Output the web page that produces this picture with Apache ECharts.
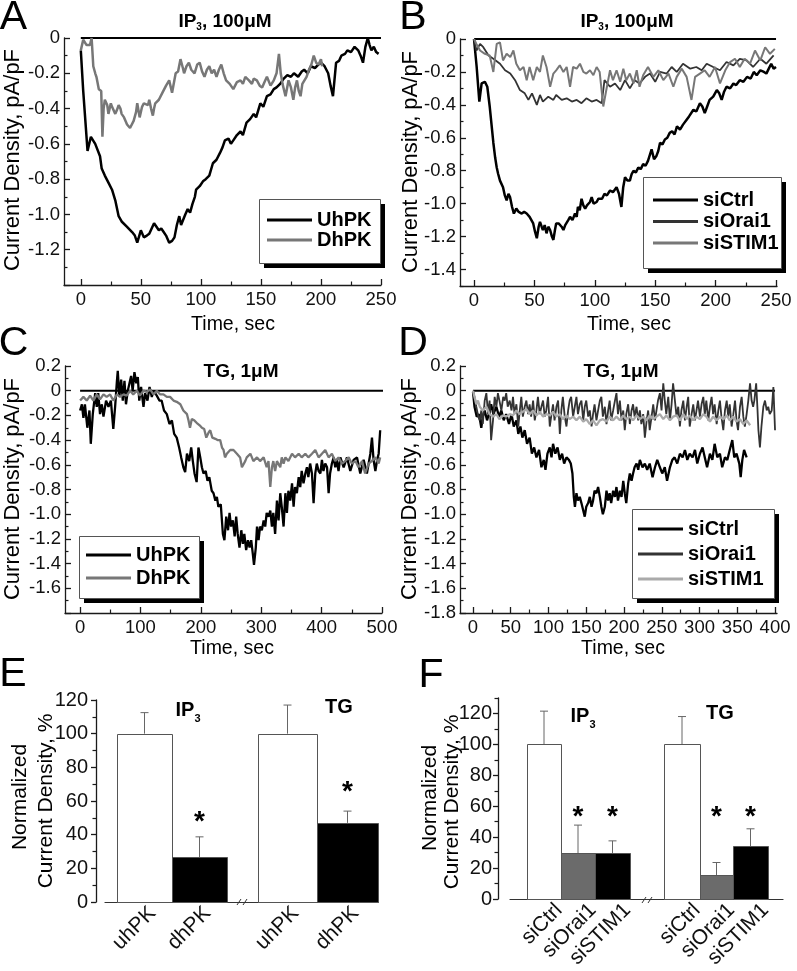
<!DOCTYPE html>
<html><head><meta charset="utf-8">
<script src="https://cdn.jsdelivr.net/npm/echarts@6/dist/echarts.min.js"></script>
<style>html,body{margin:0;padding:0;background:#fff}#c{width:797px;height:971px}</style>
</head><body><div id="c"></div>
<script>
// ---------------- DATA ----------------
// Panel A (IP3, 100uM): [time s, current pA/pF]
const A_UhPK = [[0,-0.07],[2,-0.3],[5.6,-0.64],[8.4,-0.56],[12,-0.6],[16,-0.67],[17.4,-0.74],[20,-0.78],[23,-0.82],[26,-0.86],[28.7,-0.92],[31.5,-1.01],[34,-1.04],[38.5,-1.07],[42.7,-1.1],[45,-1.12],[47,-1.16],[50,-1.09],[52.5,-1.13],[55,-1.12],[57,-1.11],[59,-1.08],[61,-1.05],[63,-1.07],[65,-1.09],[67,-1.08],[69,-1.1],[71,-1.12],[73.6,-1.16],[76,-1.15],[78,-1.13],[80,-1.06],[82,-1.01],[83.5,-1.06],[85,-1.05],[87,-1.0],[89,-0.97],[91,-0.99],[93,-0.94],[95,-0.9],[96,-0.86],[99,-0.84],[102,-0.81],[104,-0.8],[107,-0.78],[110,-0.71],[113,-0.69],[116,-0.65],[118,-0.62],[120,-0.58],[123,-0.57],[125,-0.6],[127,-0.58],[130,-0.55],[133,-0.53],[135,-0.55],[138,-0.48],[141,-0.46],[144,-0.43],[146,-0.45],[149.5,-0.37],[152,-0.39],[155,-0.33],[158,-0.32],[160.7,-0.29],[163,-0.28],[166,-0.26],[169,-0.23],[172,-0.21],[175,-0.22],[177.5,-0.2],[181,-0.22],[184,-0.19],[186,-0.18],[189,-0.2],[191.6,-0.16],[195,-0.17],[198,-0.15],[200,-0.14],[203,-0.16],[206,-0.2],[208,-0.27],[210,-0.33],[212.6,-0.14],[215,-0.13],[217,-0.1],[220,-0.09],[222,-0.07],[225,-0.08],[228,-0.05],[231,-0.07],[233,-0.1],[235,-0.14],[237,-0.05],[239,0],[240.5,-0.04],[242,-0.07],[244,-0.05],[246,-0.08],[248,-0.09]];
const A_DhPK = [[0,-0.07],[2,-0.01],[4.8,-0.04],[7.6,-0.04],[9,0],[10.4,-0.16],[12,-0.2],[13,-0.22],[15,-0.29],[17,-0.3],[18,-0.56],[19,-0.4],[20,-0.35],[22,-0.38],[23,-0.43],[25,-0.37],[26,-0.39],[28.7,-0.43],[30,-0.41],[31.5,-0.38],[33,-0.4],[34,-0.43],[36,-0.45],[38.5,-0.49],[41,-0.51],[44,-0.47],[46,-0.42],[47,-0.37],[49,-0.45],[51,-0.39],[52.5,-0.37],[54,-0.37],[56,-0.38],[57,-0.35],[58.5,-0.4],[60,-0.44],[61,-0.4],[62,-0.37],[65,-0.35],[68,-0.31],[71,-0.27],[73.6,-0.24],[76,-0.31],[79,-0.2],[81,-0.19],[83,-0.12],[85,-0.17],[86,-0.2],[88,-0.16],[90,-0.14],[92,-0.18],[94.7,-0.2],[97,-0.15],[99,-0.14],[101,-0.19],[103,-0.22],[105,-0.18],[107,-0.16],[109,-0.2],[111,-0.18],[113,-0.22],[115,-0.18],[117,-0.15],[119,-0.2],[121,-0.24],[124,-0.26],[127,-0.29],[130,-0.25],[133,-0.24],[135,-0.26],[137,-0.22],[140,-0.24],[142.5,-0.26],[144,-0.23],[146.6,-0.24],[149,-0.27],[151,-0.28],[153,-0.25],[155,-0.22],[158,-0.27],[160.7,-0.24],[163,-0.2],[165,-0.09],[166.5,-0.2],[168,-0.26],[170.5,-0.33],[173,-0.24],[175,-0.28],[177,-0.35],[178.5,-0.28],[180,-0.24],[181.5,-0.3],[183,-0.33],[184.5,-0.26],[186,-0.27],[188,-0.22],[190,-0.18],[192,-0.15],[194,-0.1],[196,-0.14],[198,-0.15],[200,-0.12],[201,-0.16]];
const A_zero = [[0,0],[250,0]];

// Panel B (IP3, 100uM)
const B_siCtrl = [[0,0],[2.2,-0.17],[4.4,-0.38],[6.3,-0.27],[9,-0.26],[11,-0.29],[13,-0.41],[14.5,-0.52],[16,-0.63],[17.5,-0.72],[18.8,-0.78],[20,-0.82],[21.5,-0.86],[24,-0.9],[25.5,-0.95],[27,-0.98],[28.5,-0.94],[29.8,-0.96],[31.5,-1.02],[33,-1.06],[35,-1.03],[37,-1.05],[39.5,-1.06],[41.5,-1.05],[43.6,-1.06],[46,-1.08],[49,-1.12],[50.5,-1.17],[52,-1.21],[53.5,-1.14],[54.6,-1.11],[56,-1.14],[57,-1.16],[58.5,-1.13],[60,-1.18],[61.5,-1.14],[63,-1.16],[64.5,-1.2],[65.7,-1.22],[67,-1.16],[68,-1.12],[70,-1.12],[71,-1.11],[72.5,-1.14],[74,-1.16],[75.5,-1.13],[76.7,-1.14],[78,-1.1],[79.5,-1.08],[81.5,-1.1],[83.6,-1.06],[85,-1.08],[86,-1.02],[87.5,-1.04],[89,-0.97],[90.5,-1.01],[92,-1.03],[93.5,-1.01],[94.6,-1.02],[96,-0.99],[97.4,-0.96],[99,-1.0],[101.5,-0.99],[103,-0.97],[104,-0.96],[106,-0.97],[108,-0.94],[110,-0.95],[112.6,-0.92],[115,-0.93],[118,-0.9],[120,-0.94],[122,-1.02],[123.5,-0.9],[125,-0.84],[127,-0.86],[129,-0.86],[130.5,-0.82],[132,-0.8],[134,-0.81],[136,-0.78],[138,-0.79],[140,-0.76],[142,-0.77],[144,-0.74],[145.5,-0.75],[147,-0.67],[149,-0.73],[151,-0.71],[152.5,-0.68],[154,-0.63],[156,-0.64],[158,-0.61],[160,-0.6],[162,-0.57],[164,-0.56],[166,-0.58],[168,-0.53],[170.5,-0.55],[173,-0.52],[176,-0.49],[178,-0.47],[181.6,-0.43],[184,-0.44],[187,-0.39],[189,-0.41],[191,-0.45],[193,-0.41],[195,-0.37],[198,-0.35],[201,-0.31],[203,-0.33],[205,-0.37],[207,-0.32],[209,-0.29],[212,-0.3],[214.7,-0.27],[217,-0.28],[220,-0.25],[223,-0.26],[226,-0.23],[229,-0.24],[231.6,-0.2],[234,-0.22],[237,-0.19],[240,-0.2],[242,-0.21],[244,-0.18],[246,-0.15],[248,-0.18],[250,-0.17]];
const B_siOrai1 = [[0,0],[2,-0.07],[5,-0.03],[7.7,-0.05],[12,-0.1],[16,-0.12],[21.5,-0.15],[25.7,-0.19],[30,-0.21],[34,-0.25],[38,-0.31],[42,-0.33],[45,-0.37],[48,-0.33],[52,-0.4],[54.6,-0.34],[57,-0.38],[61.5,-0.35],[65.7,-0.37],[68,-0.34],[72.6,-0.37],[76.7,-0.36],[81,-0.38],[85,-0.37],[89,-0.39],[93,-0.36],[97.4,-0.38],[101.5,-0.37],[105.7,-0.39],[108,-0.25],[112.6,-0.29],[116.7,-0.27],[121,-0.31],[125,-0.25],[129,-0.3],[133,-0.25],[137,-0.27],[141.6,-0.23],[145.7,-0.21],[150,-0.26],[154,-0.2],[159.5,-0.21],[163.6,-0.17],[167.8,-0.2],[173,-0.15],[179,-0.18],[184,-0.17],[188.5,-0.19],[192.6,-0.15],[198,-0.17],[203.6,-0.19],[209,-0.14],[214.7,-0.16],[220,-0.12],[225.7,-0.13],[231,-0.17],[237,-0.12],[242,-0.15],[248,-0.1]];
const B_siSTIM1 = [[0,0],[2,-0.03],[5,-0.07],[9,-0.09],[13,-0.1],[16,-0.2],[18.8,-0.03],[21.5,-0.02],[24,-0.13],[27,-0.09],[30,-0.11],[32.6,-0.07],[35,-0.15],[38,-0.19],[41,-0.17],[43.6,-0.25],[46,-0.17],[49,-0.25],[52,-0.17],[54.6,-0.2],[57,-0.1],[60,-0.17],[63,-0.29],[65.7,-0.21],[68,-0.19],[71,-0.16],[74,-0.2],[76.7,-0.17],[79.5,-0.29],[82,-0.17],[85,-0.18],[87.7,-0.15],[90.5,-0.2],[93,-0.21],[96,-0.19],[98.8,-0.22],[101.5,-0.17],[104,-0.2],[107,-0.41],[110,-0.29],[112.6,-0.19],[115,-0.25],[118,-0.19],[121,-0.26],[123.6,-0.18],[126,-0.25],[129,-0.21],[132,-0.27],[134.7,-0.19],[137,-0.29],[140,-0.22],[144,-0.17],[148.5,-0.23],[152.6,-0.19],[156.7,-0.25],[161,-0.21],[165,-0.29],[167.8,-0.23],[172,-0.18],[176,-0.23],[180,-0.37],[183,-0.23],[187,-0.21],[191,-0.19],[195,-0.23],[199.5,-0.17],[203.6,-0.27],[208,-0.19],[212,-0.14],[216,-0.12],[220,-0.17],[224,-0.12],[228.5,-0.15],[232.6,-0.07],[237,-0.13],[241,-0.05],[245,-0.09],[249,-0.06]];
const B_zero = [[0,0],[250,0]];

// Panel C (TG, 1uM)
const C_UhPK = [[0,-0.16],[3,-0.11],[5.5,-0.22],[8,-0.11],[12,-0.3],[15.5,-0.16],[17.7,-0.43],[21,-0.19],[25,-0.02],[27.6,-0.13],[30,-0.02],[33,-0.19],[36,-0.11],[38.7,-0.21],[43,-0.08],[47,-0.13],[51,-0.08],[55,-0.31],[58,-0.13],[61,0.08],[62.4,0.16],[65,-0.05],[68,0.09],[70.7,-0.08],[73.5,0.08],[76,-0.11],[79,0],[81.8,0.06],[84.5,0.12],[87,0],[90,0.15],[93,0.06],[95.6,0.11],[98,-0.08],[101,0.03],[105,-0.13],[107.7,-0.02],[111.6,-0.08],[115,0.03],[118.8,-0.05],[121.5,0],[127,-0.04],[131.5,-0.08],[135,-0.08],[139,-0.16],[143.6,-0.19],[148,-0.27],[152,-0.24],[155.8,-0.35],[160,-0.38],[164,-0.46],[167.4,-0.54],[171,-0.62],[174,-0.66],[177,-0.51],[180.7,-0.57],[184,-0.46],[186.7,-0.57],[189.5,-0.67],[193,-0.74],[196,-0.46],[199,-0.54],[201.7,-0.62],[204.4,-0.67],[208,-0.65],[211,-0.73],[214,-0.7],[218,-0.81],[221,-0.83],[224,-0.89],[226.5,-0.86],[229,-0.94],[233,-0.92],[236.5,-1.16],[239,-1.21],[242,-1.02],[245,-1.13],[247.5,-0.99],[250,-1.1],[253,-1.05],[256,-1.18],[258.5,-1.02],[261,-1.16],[264,-1.27],[267,-1.13],[269.6,-1.24],[272,-1.16],[275,-1.29],[278,-1.21],[280.7,-1.27],[283.4,-1.21],[286,-1.32],[288,-1.41],[291,-1.27],[293,-1.1],[295.6,-1.21],[298,-1.1],[301,-1.13],[304,-1.05],[306.6,-1.1],[309,-0.99],[312,-1.02],[315,-0.97],[317.7,-1.1],[320,-0.99],[323,-1.16],[326,-0.89],[328.7,-1.05],[331.5,-0.83],[334,-0.94],[337,-1.1],[340,-0.83],[342.5,-0.99],[345,-0.81],[348,-0.89],[351,-0.75],[353.6,-0.94],[356,-0.78],[359,-0.83],[362,-0.7],[364.6,-0.78],[367,-0.65],[370,-0.75],[373,-0.67],[375.7,-0.62],[378,-0.7],[381,-0.59],[384,-0.67],[386.7,-0.91],[389.5,-0.67],[392,-0.59],[395,-0.65],[398,-0.67],[400.5,-0.56],[403,-0.65],[406,-0.59],[409,-0.62],[411.6,-0.83],[414,-0.67],[417,-0.59],[420,-0.54],[422.6,-0.62],[425,-0.56],[428,-0.65],[431,-0.54],[436.5,-0.62],[442,-0.54],[447.5,-0.65],[453,-0.56],[458.6,-0.54],[464,-0.67],[469.6,-0.56],[475,-0.67],[480.7,-0.51],[483.4,-0.38],[486,-0.56],[489,-0.65],[492,-0.56],[494.5,-0.51],[497,-0.32]];
const C_DhPK = [[0,-0.08],[5.5,-0.05],[11,-0.08],[16.6,-0.04],[22,-0.08],[27.6,-0.03],[33,-0.07],[38.7,-0.03],[44,-0.05],[49.7,-0.03],[55,-0.08],[61,-0.03],[66,-0.05],[72,-0.03],[77,-0.04],[83,0],[88,-0.03],[94,0],[99,-0.04],[105,0],[110.5,-0.01],[116,0.01],[121.5,-0.03],[127,0],[132.6,-0.03],[138,-0.03],[143.6,-0.05],[149,-0.05],[154.7,-0.08],[160,-0.09],[166,-0.11],[171,-0.16],[177,-0.19],[179.5,-0.24],[182,-0.3],[185,-0.23],[189,-0.24],[193,-0.26],[198,-0.28],[201.7,-0.3],[205.5,-0.31],[209,-0.38],[212.7,-0.34],[215.5,-0.32],[219,-0.38],[224,-0.39],[227.6,-0.4],[232,-0.4],[235,-0.46],[237.6,-0.48],[240,-0.54],[243,-0.51],[248.6,-0.48],[254,-0.48],[259.7,-0.51],[265,-0.54],[268,-0.62],[270.7,-0.62],[273.5,-0.57],[276,-0.54],[282,-0.51],[287,-0.57],[293,-0.54],[298,-0.57],[304,-0.54],[309,-0.62],[312,-0.57],[315,-0.78],[317.7,-0.62],[320,-0.57],[323,-0.65],[326,-0.57],[331.5,-0.62],[334,-0.54],[337,-0.59],[340,-0.54],[345,-0.57],[351,-0.51],[356,-0.54],[362,-0.51],[367,-0.54],[373,-0.51],[378,-0.54],[384,-0.51],[389.5,-0.48],[395,-0.54],[400.5,-0.51],[406,-0.48],[411.6,-0.54],[417,-0.51],[422.6,-0.57],[428,-0.54],[433.7,-0.59],[439,-0.57],[444.8,-0.54],[450,-0.59],[456,-0.57],[461,-0.62],[467,-0.57],[472,-0.67],[478,-0.59],[483,-0.57],[489,-0.54],[494.5,-0.59],[497,-0.54]];
const C_zero = [[0,0],[510,0]];

// Panel D (TG, 1uM)
const D_siCtrl = [[0,-0.01],[2,-0.13],[5,-0.21],[8,-0.19],[11,-0.3],[13,-0.21],[15.5,-0.16],[18.6,-0.24],[21,-0.19],[24,-0.11],[27,-0.19],[31,-0.13],[34.5,-0.21],[37.6,-0.16],[40.7,-0.24],[44,-0.19],[47.7,-0.27],[51,-0.19],[54,-0.29],[57.5,-0.24],[60,-0.35],[62.8,-0.29],[65.4,-0.38],[68.5,-0.32],[71.6,-0.43],[75,-0.38],[78,-0.51],[81,-0.46],[84,-0.54],[87.5,-0.48],[90.6,-0.62],[93.7,-0.56],[96,-0.64],[98.6,-0.51],[101.7,-0.46],[104,-0.54],[106,-0.43],[109,-0.51],[112,-0.46],[115,-0.56],[118,-0.51],[120.7,-0.59],[123.8,-0.54],[127,-0.56],[129.5,-0.59],[131.7,-0.67],[133.5,-0.86],[135,-0.94],[137,-0.83],[139,-0.89],[141.4,-0.86],[143.6,-0.91],[146,-0.97],[148,-1.02],[150,-0.94],[152.5,-0.91],[154.7,-0.86],[157,-0.94],[159,-0.89],[161,-0.81],[163.5,-0.83],[165.7,-0.78],[168,-0.86],[170,-0.94],[172,-1.0],[174.6,-0.94],[176.8,-0.81],[179,-0.89],[181,-0.83],[183,-0.91],[185.6,-0.81],[188,-0.86],[190,-0.78],[192,-0.89],[194.5,-0.81],[196.7,-0.86],[199,-0.73],[201,-0.83],[203,-0.91],[205.5,-0.75],[207.7,-0.67],[210,-0.73],[212,-0.67],[214,-0.62],[216.6,-0.59],[218.8,-0.64],[221,-0.56],[224.5,-0.62],[227.6,-0.59],[230.7,-0.64],[234,-0.59],[237.8,-0.7],[241,-0.62],[244,-0.56],[247.5,-0.62],[250.6,-0.67],[254,-0.62],[257,-0.73],[260.8,-0.62],[264,-0.56],[267,-0.54],[270.5,-0.59],[274,-0.51],[277.6,-0.54],[280.7,-0.48],[283.8,-0.56],[287,-0.51],[290.8,-0.54],[294,-0.48],[297,-0.59],[300.5,-0.51],[304,-0.46],[307,-0.54],[310,-0.62],[313.8,-0.51],[317,-0.56],[320,-0.43],[323.5,-0.54],[327,-0.51],[330,-0.62],[333.7,-0.54],[336.8,-0.56],[340,-0.48],[343.4,-0.4],[346,-0.54],[349,-0.51],[352.7,-0.59],[354.5,-0.7],[356.7,-0.56],[359,-0.48],[362.4,-0.54]];
const D_siOrai1 = [[0,0],[2,-0.05],[4.4,-0.13],[7,-0.21],[9,-0.24],[11,-0.16],[13,-0.27],[15.5,-0.08],[17.7,-0.02],[20,-0.19],[22,-0.08],[24,-0.4],[26.5,-0.24],[28.7,-0.05],[31,-0.13],[33,-0.02],[35,-0.08],[37.6,-0.16],[40,-0.05],[42,-0.08],[44,-0.02],[46,-0.13],[48.6,-0.08],[51,-0.16],[53,-0.05],[55,-0.19],[57.5,-0.11],[60,-0.29],[62,-0.16],[64,-0.05],[66,-0.21],[68.5,-0.13],[70.7,-0.08],[73,-0.19],[75,-0.11],[77,-0.21],[79.6,-0.08],[81.8,-0.24],[84,-0.16],[86,-0.05],[88.4,-0.19],[90.6,-0.13],[92.8,-0.08],[95,-0.21],[97,-0.16],[99.4,-0.05],[101.7,-0.29],[104,-0.19],[106,-0.11],[108,-0.24],[110.5,-0.13],[112.7,-0.08],[115,-0.35],[117,-0.16],[119,-0.05],[121.5,-0.21],[123.8,-0.29],[126,-0.16],[128,-0.08],[130,-0.05],[132.6,-0.21],[134.8,-0.13],[137,-0.05],[139,-0.19],[141.4,-0.11],[143.6,-0.08],[146,-0.24],[148,-0.13],[150,-0.08],[152.5,-0.21],[154.7,-0.16],[157,-0.29],[159,-0.19],[161,-0.11],[163.5,-0.24],[165.7,-0.16],[168,-0.08],[170,-0.05],[172,-0.21],[174.6,-0.13],[176.8,-0.27],[179,-0.16],[181,-0.08],[183,-0.24],[185.6,-0.16],[188,-0.08],[190,-0.02],[192,-0.19],[194.5,-0.08],[196.7,-0.24],[199,-0.16],[201,-0.32],[203,-0.19],[205.5,-0.11],[207.7,-0.27],[210,-0.16],[212,-0.11],[214,-0.21],[216.6,-0.13],[218.8,-0.24],[221,-0.16],[223,-0.27],[225.4,-0.19],[227.6,-0.38],[230,-0.24],[232,-0.16],[234,-0.32],[236.5,-0.21],[238.7,-0.11],[241,-0.24],[243,-0.16],[245,-0.08],[247.5,-0.02],[249.7,-0.16],[252,0.06],[254,-0.08],[256,-0.19],[258.6,-0.05],[260.8,-0.24],[263,-0.11],[265,0.06],[267.4,-0.08],[269.6,-0.21],[271.8,-0.13],[274,-0.29],[276,-0.16],[278.5,-0.08],[280.7,-0.24],[283,-0.13],[285,-0.05],[287,-0.29],[289.5,-0.19],[291.7,-0.11],[294,-0.24],[296,-0.16],[298,-0.08],[300.5,-0.21],[302.7,-0.11],[305,-0.05],[307,-0.19],[309,-0.08],[311.6,-0.24],[313.8,-0.13],[316,-0.05],[318,-0.19],[320,-0.11],[322.7,-0.27],[324.9,-0.16],[327,-0.08],[329,-0.21],[331.5,-0.32],[333.7,-0.16],[336,-0.08],[338,-0.21],[340,-0.11],[342.5,-0.29],[344.8,-0.19],[347,-0.08],[349,-0.24],[351,-0.32],[353.6,-0.13],[355.8,-0.05],[358,-0.21],[360,-0.29],[362.4,-0.19],[364.6,-0.08],[366.9,0.06],[369,-0.08],[371,-0.13],[372.6,-0.08],[375,0.06],[376.6,-0.13],[378,-0.32],[380,-0.46],[382,-0.29],[384.5,-0.13],[386.7,-0.08],[389,-0.16],[391,-0.13],[393,-0.19],[395.6,-0.16],[397.8,0.03],[400,-0.32]];
const D_siSTIM1 = [[0,0],[2,-0.05],[4.4,-0.11],[6.6,-0.08],[9,-0.13],[13,-0.16],[17.7,-0.13],[22,-0.19],[26.5,-0.21],[31,-0.19],[35,-0.23],[40,-0.2],[44,-0.21],[48.6,-0.19],[53,-0.2],[57.5,-0.16],[62,-0.19],[66,-0.17],[70.7,-0.15],[75,-0.19],[79.6,-0.16],[84,-0.2],[88.4,-0.17],[92.8,-0.21],[97,-0.19],[101.7,-0.2],[106,-0.17],[110.5,-0.21],[115,-0.19],[119,-0.23],[123.8,-0.2],[128,-0.23],[132.6,-0.21],[137,-0.24],[141.4,-0.21],[146,-0.25],[150,-0.23],[154.7,-0.27],[159,-0.24],[163.5,-0.28],[168,-0.24],[172,-0.23],[176.8,-0.25],[181,-0.21],[185.6,-0.24],[190,-0.21],[194.5,-0.24],[199,-0.2],[203,-0.23],[207.7,-0.21],[212,-0.24],[216.6,-0.2],[221,-0.23],[225.4,-0.21],[230,-0.24],[234,-0.2],[238.7,-0.23],[243,-0.21],[247.5,-0.19],[252,-0.23],[256,-0.2],[260.8,-0.24],[265,-0.21],[269.6,-0.2],[274,-0.24],[278.5,-0.19],[283,-0.23],[287,-0.2],[291.7,-0.24],[296,-0.21],[300.5,-0.23],[305,-0.19],[309,-0.21],[313.8,-0.25],[318,-0.21],[322.7,-0.24],[327,-0.21],[331.5,-0.23],[336,-0.2],[340,-0.24],[344.8,-0.21],[349,-0.25],[353.6,-0.23],[358,-0.27],[362.4,-0.24],[367,-0.28]];
const D_zero = [[0,0],[400,0]];

// Panel E: normalized current density (%)
const E_groups = ['IP3', 'TG'];
const E_cats = ['uhPK', 'dhPK'];
const E_IP3_mean = [100, 26.5];
const E_IP3_err = [12.5, 12.2];
const E_TG_mean = [100, 47];
const E_TG_err = [17, 7];
const E_IP3_star = [null, 51];
const E_TG_star = [null, 68.5];

// Panel F
const F_cats = ['siCtrl', 'siOrai1', 'siSTIM1'];
const F_IP3_mean = [100, 29.6, 29.6];
const F_IP3_err = [21.5, 18.2, 8];
const F_TG_mean = [100, 15.4, 34];
const F_TG_err = [18, 8.2, 11.4];
const F_IP3_star = [null, 57, 57];
const F_TG_star = [null, 57, 57];

// tick labels
const A_xTicks = [0,50,100,150,200,250], A_xMinor = [25,75,125,175,225];
const A_yLabels = [0,-0.2,-0.4,-0.6,-0.8,-1,-1.2], A_yTicks = [0,-0.2,-0.4,-0.6,-0.8,-1,-1.2,-1.4], A_yMinor = [-0.1,-0.3,-0.5,-0.7,-0.9,-1.1,-1.3];
const B_xTicks = [0,50,100,150,200,250], B_xMinor = [25,75,125,175,225];
const B_yLabels = [0,-0.2,-0.4,-0.6,-0.8,-1,-1.2,-1.4], B_yMinor = [-0.1,-0.3,-0.5,-0.7,-0.9,-1.1,-1.3,-1.5];
const C_xTicks = [0,100,200,300,400,500], C_xMinor = [50,150,250,350,450];
const C_yLabels = [0.2,0,-0.2,-0.4,-0.6,-0.8,-1,-1.2,-1.4,-1.6], C_yTicks = [0.2,0,-0.2,-0.4,-0.6,-0.8,-1,-1.2,-1.4,-1.6,-1.8];
const CD_yMinor = [0.1,-0.1,-0.3,-0.5,-0.7,-0.9,-1.1,-1.3,-1.5,-1.7];
const D_xTicks = [0,50,100,150,200,250,300,350,400], D_xMinor = [25,75,125,175,225,275,325,375];
const D_yLabels = [0.2,0,-0.2,-0.4,-0.6,-0.8,-1,-1.2,-1.4,-1.6,-1.8];
const EF_yLabels = [0,20,40,60,80,100,120];
const E_yMinor = [10,30,50,70,90,110], F_yMinor = [10,30,50,70,90,110,130];

// ---------------- LAYOUT / STYLE ----------------
const FONT = '"Liberation Sans", Arial, Helvetica, sans-serif';
const AX = '#1a1a1a';
// bar spans on E/F x-axes (axis units = px from axis start)
const E_spans = [[[12,67],[67,122]], [[153,212],[212,273]]];
const F_spans = [[[17,51],[51,85],[85,120]], [[154,190],[190,223],[223,258]]];
const E_colors = ['#ffffff', '#000000'];
const F_colors = ['#ffffff', '#6b6b6b', '#000000'];

const yFmt = v => (Math.abs(v) < 1e-9 ? '0' : v.toFixed(1));

function mainX(grid, min, max, ticks, labels) {
  return { type:'value', gridIndex:grid, position:'bottom', min, max,
    axisLine:{show:true, onZero:false, lineStyle:{color:AX, width:1.3}},
    axisTick:{show:true, inside:true, length:6, customValues:ticks, lineStyle:{color:AX, width:1.3}},
    axisLabel:{show:true, customValues:labels, margin:5, fontSize:18.5, color:'#111', fontFamily:FONT, hideOverlap:false},
    splitLine:{show:false} };
}
function minorX(grid, min, max, ticks) {
  return { type:'value', gridIndex:grid, position:'bottom', min, max,
    axisLine:{show:false, onZero:false}, axisLabel:{show:false},
    axisTick:{show:true, inside:true, length:3.5, customValues:ticks, lineStyle:{color:AX, width:1.2}},
    splitLine:{show:false} };
}
function mainY(grid, min, max, ticks, labels, opt) {
  opt = opt || {};
  return { type:'value', gridIndex:grid, position:'left', min, max, offset:opt.offset||0,
    axisLine:{show:true, onZero:false, lineStyle:{color:AX, width:1.3}},
    axisTick:{show:true, inside:!opt.outside, length:opt.outside?5:6, customValues:ticks, lineStyle:{color:AX, width:1.3}},
    axisLabel:{show:true, customValues:labels, margin:opt.margin||4, fontSize:opt.fs||18.5, color:'#111', fontFamily:FONT, formatter:opt.fmt||yFmt},
    splitLine:{show:false} };
}
function minorY(grid, min, max, ticks, opt) {
  opt = opt || {};
  return { type:'value', gridIndex:grid, position:'left', min, max, offset:opt.offset||0,
    axisLine:{show:false, onZero:false}, axisLabel:{show:false},
    axisTick:{show:true, inside:!opt.outside, length:3.5, customValues:ticks, lineStyle:{color:AX, width:1.2}},
    splitLine:{show:false} };
}

function line(name, xi, yi, data, color, width, extra) {
  return Object.assign({ type:'line', name, xAxisIndex:xi, yAxisIndex:yi, data, symbol:'none', showSymbol:false,
    color, lineStyle:{color, width}, itemStyle:{color}, silent:true, z:3 }, extra||{});
}

function barsSeries(xi, yi, groupMeans, groupErrs, groupStars, spans, colors) {
  const data = [];
  groupMeans.forEach((means, g) => means.forEach((m, i) => {
    data.push([g, i, m, groupErrs[g][i], groupStars[g][i] == null ? -1 : groupStars[g][i]]);
  }));
  return { type:'custom', xAxisIndex:xi, yAxisIndex:yi, silent:true, z:3,
    encode:{x:1, y:2},
    data,
    renderItem(params, api) {
      const g = api.value(0), i = api.value(1), m = api.value(2), e = api.value(3), s = api.value(4);
      const sp = spans[g][i];
      const cx = (sp[0] + sp[1]) / 2;
      const pBL = api.coord([sp[0], 0]), pTR = api.coord([sp[1], m]);
      const top = api.coord([cx, m]), et = api.coord([cx, m + e]);
      const ch = [
        { type:'line', shape:{x1:top[0], y1:top[1], x2:et[0], y2:et[1]}, style:{stroke:'#666', lineWidth:1} },
        { type:'line', shape:{x1:et[0]-4, y1:et[1], x2:et[0]+4, y2:et[1]}, style:{stroke:'#666', lineWidth:1} },
        { type:'rect', shape:{x:Math.round(pBL[0])+0.5, y:Math.round(pTR[1])+0.5, width:Math.round(pTR[0]-pBL[0]), height:Math.round(pBL[1]-pTR[1])},
          style:{fill:colors[i], stroke:'#555', lineWidth:1} }
      ];
      if (s >= 0) {
        const sp2 = api.coord([cx, s]);
        ch.push({ type:'text', x:sp2[0], y:sp2[1] + 6, style:{text:'*', fontSize:28, fontWeight:'bold', fontFamily:FONT, fill:'#000', align:'center', verticalAlign:'middle'} });
      }
      return { type:'group', children:ch };
    } };
}

// category-label positions (value axis) and lookup
function catAxis(grid, spans, cats, shift) {
  const pos = [], names = [];
  spans.forEach(gs => gs.forEach((sp, i) => { pos.push((sp[0]+sp[1])/2 + shift); names.push(cats[i]); }));
  return { type:'value', gridIndex:grid, position:'bottom', min:0, max:273,
    axisLine:{show:true, onZero:false, lineStyle:{color:'#333', width:1.2}},
    axisTick:{show:false},
    axisLabel:{show:true, customValues:pos, rotate:45, margin:8, fontSize:21, color:'#111', fontFamily:FONT,
      formatter:v => { const k = pos.findIndex(p => Math.abs(p - v) < 0.01); return k >= 0 ? names[k] : ''; } },
    splitLine:{show:false} };
}

const legendBase = { orient:'vertical', icon:'rect', itemWidth:45, itemHeight:3, selectedMode:false, z:8,
  backgroundColor:'transparent', borderWidth:0,
  textStyle:{fontSize:20, fontWeight:'bold', color:'#000', fontFamily:FONT} };

// legend frame: box + hard black drop shadow
function legendFrame(x1, y1, x2, y2) {
  return [
    { type:'rect', z:6, silent:true, shape:{x:x1+5, y:y1+5, width:x2-x1, height:y2-y1}, style:{fill:'#000'} },
    { type:'rect', z:7, silent:true, shape:{x:x1+0.5, y:y1+0.5, width:x2-x1, height:y2-y1}, style:{fill:'#fff', stroke:'#555', lineWidth:1} }
  ];
}

function txt(x, y, text, size, extra) {
  return Object.assign({ type:'text', x, y, silent:true,
    style:{text, fontSize:size, fontFamily:FONT, fill:'#000', align:'center', verticalAlign:'middle'} }, extra||{});
}
function btxt(x, y, text, size) {
  return { type:'text', x, y, silent:true,
    style:{text, fontSize:size, fontWeight:'bold', fontFamily:FONT, fill:'#000', align:'center', verticalAlign:'middle'} };
}
function rich(x, y, main, sub, rest, size, subSize, subPad) {
  return { type:'text', x, y, silent:true, style:{
    text:'{b|' + main + '}{s|' + sub + '}' + (rest ? '{b|' + rest + '}' : ''),
    align:'center', verticalAlign:'middle',
    rich:{ b:{fontSize:size, fontWeight:'bold', fontFamily:FONT, fill:'#000'},
           s:{fontSize:subSize, fontWeight:'bold', fontFamily:FONT, fill:'#000', padding:[subPad,0,0,0]} } } };
}
function breakMark(x, y) {
  return [
    { type:'line', silent:true, shape:{x1:x-5, y1:y+3, x2:x-1, y2:y-3}, style:{stroke:'#333', lineWidth:1} },
    { type:'line', silent:true, shape:{x1:x+1, y1:y+3, x2:x+5, y2:y-3}, style:{stroke:'#333', lineWidth:1} }
  ];
}

const option = {
  animation:false,
  backgroundColor:'#fff',
  textStyle:{fontFamily:FONT},
  grid:[
    {left:64, top:38, width:317, height:247},
    {left:460, top:39, width:317, height:247},
    {left:65, top:366, width:317, height:247},
    {left:460, top:366, width:317, height:247},
    {left:105, top:700, width:273, height:202},
    {left:510, top:698, width:273, height:202}
  ],
  xAxis:[
    mainX(0, -14, 250, A_xTicks, A_xTicks), minorX(0, -14, 250, A_xMinor),
    mainX(1, -11.6, 250.8, B_xTicks, B_xTicks), minorX(1, -11.6, 250.8, B_xMinor),
    mainX(2, -25, 500, C_xTicks, C_xTicks), minorX(2, -25, 500, C_xMinor),
    mainX(3, -17.2, 402.6, D_xTicks, D_xTicks), minorX(3, -17.2, 402.6, D_xMinor),
    catAxis(4, E_spans, E_cats, 8),
    catAxis(5, F_spans, F_cats, 15)
  ],
  yAxis:[
    mainY(0, -1.4, 0, A_yTicks, A_yLabels), minorY(0, -1.4, 0, A_yMinor),
    mainY(1, -1.5, 0, B_yLabels, B_yLabels), minorY(1, -1.5, 0, B_yMinor),
    mainY(2, -1.8, 0.2, C_yTicks, C_yLabels), minorY(2, -1.8, 0.2, CD_yMinor),
    mainY(3, -1.8, 0.2, D_yLabels, D_yLabels), minorY(3, -1.8, 0.2, CD_yMinor),
    mainY(4, 0, 120, EF_yLabels, EF_yLabels, {offset:9, outside:true, margin:8, fs:20, fmt:v => String(v)}),
    minorY(4, 0, 120, E_yMinor, {offset:9, outside:true}),
    mainY(5, 0, 130, EF_yLabels, EF_yLabels, {offset:12, outside:true, margin:6, fs:20, fmt:v => String(v)}),
    minorY(5, 0, 130, F_yMinor, {offset:12, outside:true})
  ],
  legend:[
    Object.assign({}, legendBase, {left:259, top:199, itemGap:0, padding:[11,9,13,8],
      data:[{name:'UhPK', itemStyle:{color:'#000'}}, {name:'DhPK', itemStyle:{color:'#777'}}]}),
    Object.assign({}, legendBase, {left:643, top:177, itemGap:1.5, padding:[13,6,15,10],
      data:[{name:'siCtrl', itemStyle:{color:'#000'}}, {name:'siOrai1', itemStyle:{color:'#333'}}, {name:'siSTIM1', itemStyle:{color:'#777'}}]}),
    Object.assign({}, legendBase, {left:79, top:536, itemGap:3, padding:[9,6,10,7],
      data:[{name:'UhPK', itemStyle:{color:'#000'}}, {name:'DhPK', itemStyle:{color:'#777'}}]}),
    Object.assign({}, legendBase, {left:632, top:509, itemGap:5, padding:[10,8,9,6],
      data:[{name:'siCtrl', itemStyle:{color:'#000'}}, {name:'siOrai1', itemStyle:{color:'#333'}}, {name:'siSTIM1', itemStyle:{color:'#aaa'}}]})
  ],
  series:[
    line('zeroA', 0, 0, A_zero, '#000', 2.2, {clip:false}),
    line('UhPK', 0, 0, A_UhPK, '#000', 2.5),
    line('DhPK', 0, 0, A_DhPK, '#777', 2.5),
    line('zeroB', 2, 2, B_zero, '#000', 2.2, {clip:false}),
    line('siCtrl', 2, 2, B_siCtrl, '#000', 2.5),
    line('siOrai1', 2, 2, B_siOrai1, '#333', 1.8),
    line('siSTIM1', 2, 2, B_siSTIM1, '#777', 2),
    line('zeroC', 4, 4, C_zero, '#000', 2, {clip:false}),
    line('UhPK', 4, 4, C_UhPK, '#000', 2.3),
    line('DhPK', 4, 4, C_DhPK, '#777', 2.3),
    line('zeroD', 6, 6, D_zero, '#000', 2, {clip:false}),
    line('siCtrl', 6, 6, D_siCtrl, '#000', 2.3),
    line('siOrai1', 6, 6, D_siOrai1, '#333', 1.8),
    line('siSTIM1', 6, 6, D_siSTIM1, '#aaa', 2.3),
    barsSeries(8, 8, [E_IP3_mean, E_TG_mean], [E_IP3_err, E_TG_err], [E_IP3_star, E_TG_star], E_spans, E_colors),
    barsSeries(9, 10, [F_IP3_mean, F_TG_mean], [F_IP3_err, F_TG_err], [F_IP3_star, F_TG_star], F_spans, F_colors)
  ],
  graphic:[
    txt(13.5, 18, 'A', 41), txt(413, 18, 'B', 41), txt(13.5, 344, 'C', 41), txt(413, 344, 'D', 41),
    txt(13, 675, 'E', 41), txt(431, 676, 'F', 41),
    rich(225, 22, 'IP', '3', ', 100μM', 19, 10, 10),
    rich(627, 22, 'IP', '3', ', 100μM', 19, 10, 10),
    btxt(241, 372, 'TG, 1μM', 19),
    btxt(621, 372, 'TG, 1μM', 19),
    txt(13, 160, 'Current Density, pA/pF', 22, {rotation:Math.PI/2}),
    txt(411, 162, 'Current Density, pA/pF', 22, {rotation:Math.PI/2}),
    txt(13, 489, 'Current Density, pA/pF', 22, {rotation:Math.PI/2}),
    txt(410, 489, 'Current Density, pA/pF', 22, {rotation:Math.PI/2}),
    txt(233, 325, 'Time, sec', 19.5), txt(629, 325, 'Time, sec', 19.5),
    txt(232, 649, 'Time, sec', 19.5), txt(623, 649, 'Time, sec', 19.5),
    txt(20, 797, 'Normalized', 21, {rotation:Math.PI/2}),
    txt(46, 801, 'Current Density, %', 21, {rotation:Math.PI/2}),
    txt(430, 798, 'Normalized', 21, {rotation:Math.PI/2}),
    txt(452, 802, 'Current Density, %', 21, {rotation:Math.PI/2}),
    rich(188, 710, 'IP', '3', '', 20, 11, 18),
    btxt(339, 707, 'TG', 20),
    rich(583, 716, 'IP', '3', '', 20, 11, 18),
    btxt(720, 713, 'TG', 20)
  ].concat(breakMark(242, 902), breakMark(647, 900),
    legendFrame(259, 199, 380, 263), legendFrame(643, 177, 781, 268),
    legendFrame(79, 536, 199, 598), legendFrame(632, 509, 774, 598))
};

const chart = echarts.init(document.getElementById('c'), null, {renderer:'canvas', width:797, height:971});
chart.setOption(option);
</script></body></html>
